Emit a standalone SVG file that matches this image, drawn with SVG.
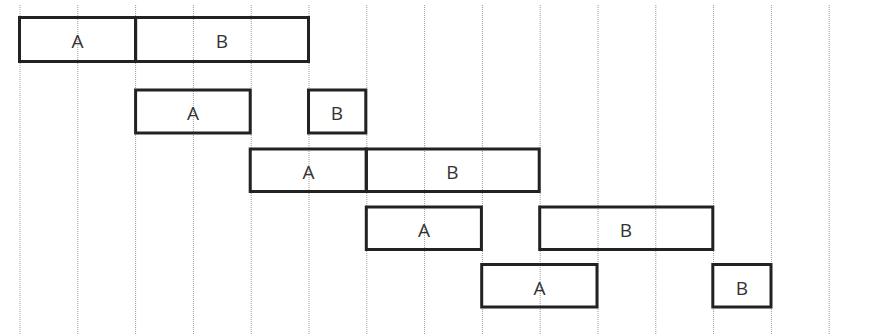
<svg xmlns="http://www.w3.org/2000/svg" width="877" height="335" viewBox="0 0 877 335">
<style>
.grid line{stroke:#9a9a9a;stroke-width:1;stroke-dasharray:1 1}
.box rect{fill:none;stroke:#222;stroke-width:3}
.box text{font-family:"Open Sans","Liberation Sans",sans-serif;font-size:19px;fill:#333;text-anchor:middle}
</style>
<rect width="877" height="335" fill="#fff"/>
<g id="grid" class="grid">
<line x1="20" y1="5" x2="20" y2="335"/>
<line x1="77.8" y1="5" x2="77.8" y2="335"/>
<line x1="135.6" y1="5" x2="135.6" y2="335"/>
<line x1="193.4" y1="5" x2="193.4" y2="335"/>
<line x1="251.2" y1="5" x2="251.2" y2="335"/>
<line x1="309" y1="5" x2="309" y2="335"/>
<line x1="366.8" y1="5" x2="366.8" y2="335"/>
<line x1="424.6" y1="5" x2="424.6" y2="335"/>
<line x1="482.4" y1="5" x2="482.4" y2="335"/>
<line x1="540.2" y1="5" x2="540.2" y2="335"/>
<line x1="598" y1="5" x2="598" y2="335"/>
<line x1="655.8" y1="5" x2="655.8" y2="335"/>
<line x1="713.6" y1="5" x2="713.6" y2="335"/>
<line x1="771.4" y1="5" x2="771.4" y2="335"/>
<line x1="829.2" y1="5" x2="829.2" y2="335"/>
</g>
<g id="connectors"></g>
<g id="r1a" class="box"><rect x="19.5" y="17.5" width="116.1" height="44"/><text x="77.5" y="48">A</text></g>
<g id="r1b" class="box"><rect x="135.6" y="17.5" width="172.9" height="44"/><text x="222" y="48">B</text></g>
<g id="r2a" class="box"><rect x="135.6" y="90" width="114.6" height="43"/><text x="193" y="120">A</text></g>
<g id="r2b" class="box"><rect x="308.5" y="90" width="57.3" height="43"/><text x="337" y="120">B</text></g>
<g id="r3a" class="box"><rect x="250.2" y="149" width="116.1" height="42.5"/><text x="308.5" y="179">A</text></g>
<g id="r3b" class="box"><rect x="366.3" y="149" width="172.9" height="42.5"/><text x="452.5" y="179">B</text></g>
<g id="r4a" class="box"><rect x="366.3" y="207" width="115.1" height="42.5"/><text x="424" y="237">A</text></g>
<g id="r4b" class="box"><rect x="539.7" y="207" width="173.1" height="42.5"/><text x="626" y="237">B</text></g>
<g id="r5a" class="box"><rect x="481.7" y="264.5" width="115.3" height="42.5"/><text x="539.5" y="294.5">A</text></g>
<g id="r5b" class="box"><rect x="712.8" y="264.5" width="58.2" height="42.5"/><text x="742" y="294.5">B</text></g>
</svg>
